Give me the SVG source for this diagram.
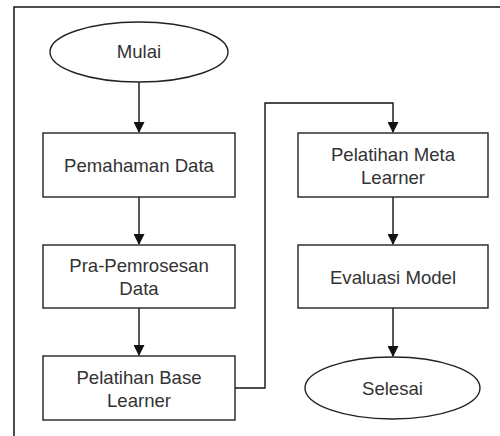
<svg xmlns="http://www.w3.org/2000/svg" width="500" height="436" viewBox="0 0 500 436">
<defs>
<style>
.n{fill:#fff;stroke:#222;stroke-width:1.4}
.t{font-family:"Liberation Sans",Arial,sans-serif;font-size:18.6px;fill:#333;text-anchor:middle}
.c{fill:none;stroke:#111;stroke-width:1.4}
</style>
<marker id="a" markerWidth="11" markerHeight="11" refX="10" refY="5.5" orient="auto" markerUnits="userSpaceOnUse"><path d="M0,0 L11,5.5 L0,11 Z" fill="#111"/></marker>
</defs>
<rect width="500" height="436" fill="#fff"/>
<rect x="14" y="7" width="500" height="450" fill="none" stroke="#222" stroke-width="1.6"/>
<g id="connectors">
<path class="c" d="M139,82 V132" marker-end="url(#a)"/>
<path class="c" d="M139,197 V244" marker-end="url(#a)"/>
<path class="c" d="M139,308 V355" marker-end="url(#a)"/>
<path class="c" d="M235,388 H265 V103 H393 V132" marker-end="url(#a)"/>
<path class="c" d="M393,197 V244" marker-end="url(#a)"/>
<path class="c" d="M393,308 V356" marker-end="url(#a)"/>
</g>
<g id="mulai"><ellipse class="n" cx="139" cy="52" rx="89" ry="30"/><text class="t" x="139" y="58">Mulai</text></g>
<g id="pemahaman"><rect class="n" x="43" y="133" width="192" height="64"/><text class="t" x="139" y="172">Pemahaman Data</text></g>
<g id="pra"><rect class="n" x="43" y="245" width="192" height="63"/><text class="t" x="139" y="272">Pra-Pemrosesan</text><text class="t" x="139" y="295">Data</text></g>
<g id="base"><rect class="n" x="43" y="356" width="192" height="64"/><text class="t" x="139" y="384">Pelatihan Base</text><text class="t" x="139" y="407">Learner</text></g>
<g id="meta"><rect class="n" x="298" y="133" width="190" height="64"/><text class="t" x="393" y="161">Pelatihan Meta</text><text class="t" x="393" y="184">Learner</text></g>
<g id="evaluasi"><rect class="n" x="298" y="245" width="190" height="63"/><text class="t" x="393" y="284">Evaluasi Model</text></g>
<g id="selesai"><ellipse class="n" cx="392.5" cy="388" rx="87.5" ry="31"/><text class="t" x="392.5" y="395">Selesai</text></g>
</svg>
